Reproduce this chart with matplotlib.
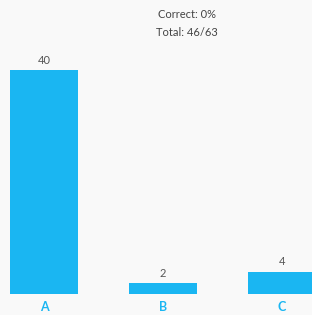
import matplotlib.pyplot as plt

categories = ['A', 'B', 'C']
counts = [40, 2, 4]
correct_pct = 0
answered = 46
total = 63

bar_color = '#1ab6f2'
bg = '#f9f9f9'

plt.rcParams['font.family'] = ['Lato', 'DejaVu Sans']

fig = plt.figure(figsize=(3.12, 3.15), dpi=100, facecolor=bg)
ax = fig.add_axes([0, 21 / 315, 1, 294 / 315])
ax.set_facecolor(bg)

x = list(range(len(categories)))
bars = ax.bar(x, counts, width=0.571, color=bar_color)
for xi, v in zip(x, counts):
    ax.annotate(str(v), (xi, v), xytext=(0, 3), textcoords='offset points',
                ha='center', va='bottom', fontsize=8, color='#555555')

ax.set_xlim(-0.37, 2.252)
ax.set_ylim(0, 52.5)
ax.set_xticks(x)
ax.set_xticklabels(categories, color=bar_color, fontsize=9, fontweight='bold')
ax.tick_params(axis='x', length=0, pad=5)
ax.set_yticks([])
for s in ax.spines.values():
    s.set_visible(False)

fig.text(187 / 312, 1 - 15 / 315, f'Correct: {correct_pct}%', ha='center', va='center',
         fontsize=8, color='#444444')
fig.text(187 / 312, 1 - 32 / 315, f'Total: {answered}/{total}', ha='center', va='center',
         fontsize=8, color='#444444')

fig.savefig('out.png', dpi=100, facecolor=bg)
